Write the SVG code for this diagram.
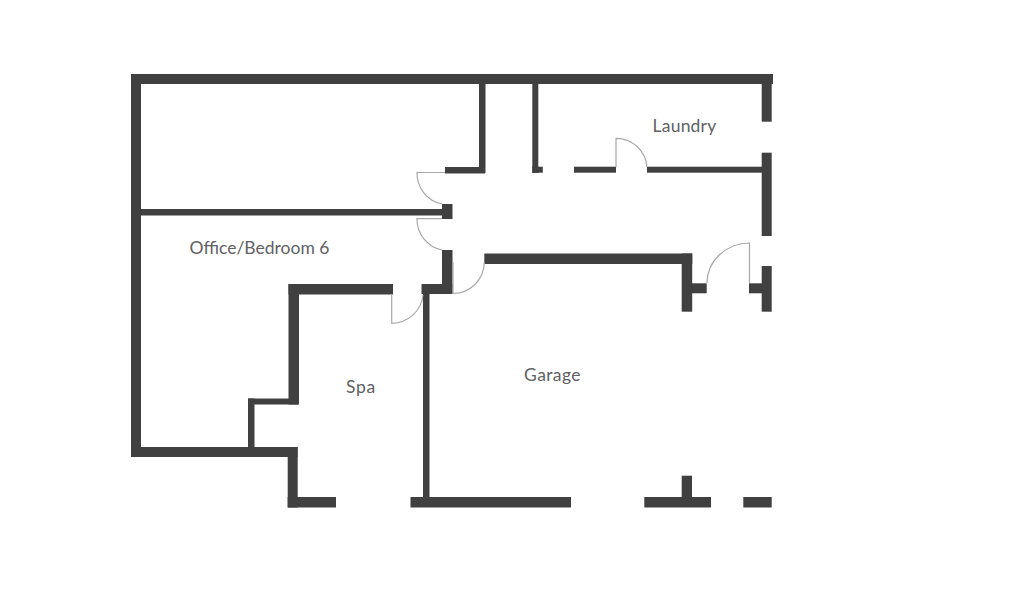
<svg xmlns="http://www.w3.org/2000/svg" width="1031" height="601" viewBox="0 0 1031 601">
<style>
.w{fill:#404040}
.d{fill:none;stroke:#a8a8a8;stroke-width:1.2}
.t{font-family:"Lato","Liberation Sans",sans-serif;font-size:17.5px;letter-spacing:.2px;fill:#616163;text-anchor:middle}
</style>
<rect width="1031" height="601" fill="#fff"/>
<g id="walls">
<rect class="w" x="131" y="74" width="642" height="10"/>
<rect class="w" x="131" y="74" width="10" height="383"/>
<rect class="w" x="131" y="447" width="166.500" height="10"/>
<rect class="w" x="287.700" y="447" width="10" height="60.500"/>
<rect class="w" x="287.700" y="497" width="48.300" height="10.500"/>
<rect class="w" x="248" y="398.500" width="6.500" height="50"/>
<rect class="w" x="248" y="398.500" width="50" height="6"/>
<rect class="w" x="288.500" y="284" width="10.500" height="120.500"/>
<rect class="w" x="288.500" y="284" width="104.500" height="10.500"/>
<rect class="w" x="141" y="209" width="302" height="6.500"/>
<rect class="w" x="442" y="204" width="10.500" height="15"/>
<rect class="w" x="442" y="250" width="10.500" height="44"/>
<rect class="w" x="421.500" y="284" width="31" height="10"/>
<rect class="w" x="423" y="290" width="6.500" height="210"/>
<rect class="w" x="410.500" y="497" width="160.500" height="10.500"/>
<rect class="w" x="445" y="167" width="40" height="6.500"/>
<rect class="w" x="479" y="80" width="6.500" height="93"/>
<rect class="w" x="532.300" y="80" width="6" height="93"/>
<rect class="w" x="532.300" y="166.700" width="10.500" height="6"/>
<rect class="w" x="574" y="166.700" width="42" height="6"/>
<rect class="w" x="647" y="166.700" width="116" height="6"/>
<rect class="w" x="761.700" y="80" width="10" height="41.700"/>
<rect class="w" x="761.700" y="152.700" width="10" height="83.300"/>
<rect class="w" x="761.700" y="266" width="10" height="45.700"/>
<rect class="w" x="749" y="283.300" width="13" height="10"/>
<rect class="w" x="484.300" y="253.500" width="208" height="10.500"/>
<rect class="w" x="681.700" y="253.500" width="10.500" height="58.200"/>
<rect class="w" x="690" y="283.300" width="16.700" height="10"/>
<rect class="w" x="644.300" y="497" width="66.700" height="10.500"/>
<rect class="w" x="681.700" y="475.700" width="10.300" height="25"/>
<rect class="w" x="743.300" y="497" width="28.400" height="10.500"/>
</g>
<g id="doors">
<path class="d" d="M445 172.500H417A31.500 31.500 0 0 0 442 204"/>
<path class="d" d="M442 218.700H417A31.500 31.500 0 0 0 442 250"/>
<path class="d" d="M453 262V293.500A31.500 31.500 0 0 0 484.300 262"/>
<path class="d" d="M391.700 294V323.300A31.500 31.500 0 0 0 423 295"/>
<path class="d" d="M616 167V138.300A31 31 0 0 1 647 167"/>
<path class="d" d="M707 283A42.500 40 0 0 1 749.500 243V283"/>
</g>
<g id="labels">
<text class="t" x="684.500" y="131.500">Laundry</text>
<text class="t" x="259.500" y="253.500" style="letter-spacing:0">Office/Bedroom 6</text>
<text class="t" x="361" y="393" style="letter-spacing:.8px">Spa</text>
<text class="t" x="552.500" y="380.500" style="letter-spacing:.4px">Garage</text>
</g>
</svg>
